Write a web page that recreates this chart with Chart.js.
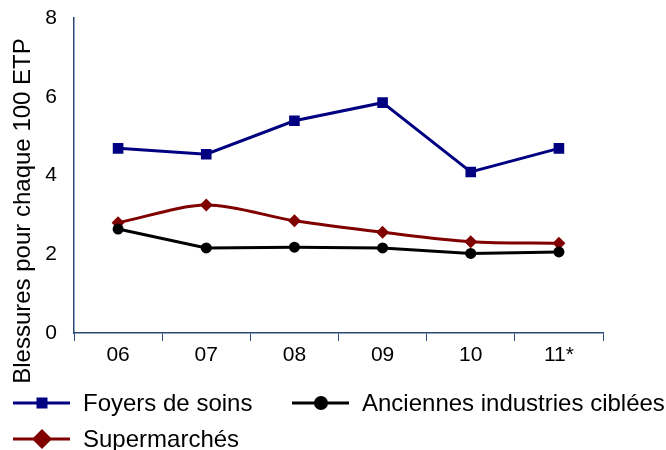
<!DOCTYPE html>
<html>
<head>
<meta charset="utf-8">
<script src="https://cdn.jsdelivr.net/npm/chart.js@4/dist/chart.umd.min.js"></script>
<style>
  html, body { margin: 0; padding: 0; background: #fff; }
  #wrap { width: 666px; height: 450px; }
</style>
</head>
<body>
<div id="wrap"><canvas id="myChart" width="666" height="450"></canvas></div>
<script>
const years = ['06', '07', '08', '09', '10', '11*']
const foyers = [4.69, 4.54, 5.39, 5.85, 4.09, 4.69]
const anciennes = [2.64, 2.16, 2.18, 2.16, 2.02, 2.06]
const supermarches = [2.80, 3.25, 2.85, 2.56, 2.32, 2.28]
const yTitle = 'Blessures pour chaque 100 ETP'

const axisColor = '#2b4a78'
const font = 'Liberation Sans, Arial, sans-serif'

// legend drawn by hand, two columns like the original
const legendSpots = [
  { x: 13, y: 403 },   // Foyers de soins
  { x: 292, y: 403 },  // Anciennes industries ciblées
  { x: 13, y: 439 }    // Supermarchés
]

function drawMarker(ctx, style, x, y, r, color) {
  ctx.fillStyle = color
  ctx.beginPath()
  if (style === 'rect') {
    ctx.rect(x - r, y - r, 2 * r, 2 * r)
  } else if (style === 'rectRot') {
    ctx.moveTo(x - r, y)
    ctx.lineTo(x, y - r)
    ctx.lineTo(x + r, y)
    ctx.lineTo(x, y + r)
    ctx.closePath()
  } else {
    ctx.arc(x, y, r, 0, Math.PI * 2)
  }
  ctx.fill()
}

const sideLegend = {
  id: 'sideLegend',
  afterDraw(chart) {
    const ctx = chart.ctx
    ctx.save()
    chart.data.datasets.forEach((ds, i) => {
      const p = legendSpots[i]
      ctx.strokeStyle = ds.borderColor
      ctx.lineWidth = 3
      ctx.beginPath()
      ctx.moveTo(p.x, p.y)
      ctx.lineTo(p.x + 57, p.y)
      ctx.stroke()
      drawMarker(ctx, ds.pointStyle, p.x + 29, p.y, ds.legendMarker, ds.borderColor)
      ctx.fillStyle = '#000'
      ctx.font = '24px ' + font
      ctx.textBaseline = 'middle'
      ctx.textAlign = 'left'
      ctx.fillText(ds.label, p.x + 70, p.y + 1)
    })

    // y title sits lower than the axis middle in the original
    ctx.translate(23, 211)
    ctx.rotate(-Math.PI / 2)
    ctx.fillStyle = '#000'
    ctx.font = '24px ' + font
    ctx.textAlign = 'center'
    ctx.textBaseline = 'middle'
    ctx.fillText(yTitle, 0, 0)
    ctx.restore()
  }
}

const data = {
  labels: years,
  datasets: [
    {
      label: 'Foyers de soins',
      data: foyers,
      borderColor: '#000080',
      backgroundColor: '#000080',
      borderWidth: 3,
      pointStyle: 'rect',
      pointRadius: 7.5,
      pointBorderWidth: 0,
      legendMarker: 5.5,
      tension: 0
    },
    {
      label: 'Anciennes industries ciblées',
      data: anciennes,
      borderColor: '#000000',
      backgroundColor: '#000000',
      borderWidth: 3,
      pointStyle: 'circle',
      pointRadius: 5.5,
      pointBorderWidth: 0,
      legendMarker: 7,
      tension: 0
    },
    {
      label: 'Supermarchés',
      data: supermarches,
      borderColor: '#800000',
      backgroundColor: '#800000',
      borderWidth: 3,
      pointStyle: 'rectRot',
      pointRadius: 6.5,
      pointBorderWidth: 0,
      legendMarker: 10,
      tension: 0.3
    }
  ]
}

const options = {
  responsive: false,
  maintainAspectRatio: false,
  animation: false,
  layout: {
    padding: { left: 0, right: 63, top: 18, bottom: 83 }
  },
  plugins: {
    legend: { display: false },
    tooltip: { enabled: false }
  },
  scales: {
    x: {
      offset: true,
      grid: {
        offset: true,
        drawOnChartArea: false,
        drawTicks: true,
        tickLength: 8,
        color: axisColor
      },
      border: { color: axisColor, width: 1.5 },
      ticks: {
        color: '#000',
        padding: 2,
        font: { family: font, size: 21 }
      },
      afterFit: (scale) => {
        scale.height = 34
        scale.paddingLeft = 0
        scale.paddingRight = 0
      }
    },
    y: {
      min: 0,
      max: 8,
      grid: { display: false, drawTicks: false },
      border: { color: axisColor, width: 1.5 },
      ticks: {
        stepSize: 2,
        color: '#000',
        padding: 17,
        font: { family: font, size: 21 }
      },
      afterFit: (scale) => {
        scale.width = 74
        scale.paddingTop = 0
        scale.paddingBottom = 0
      }
    }
  }
}

const chart = new Chart(document.querySelector('#myChart'), {
  type: 'line',
  data: data,
  options: options,
  plugins: [sideLegend]
})
</script>
</body>
</html>
